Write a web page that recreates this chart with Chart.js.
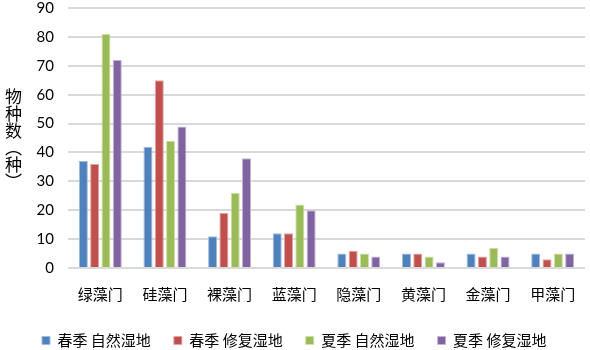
<!DOCTYPE html>
<html>
<head>
<meta charset="utf-8">
<script src="https://cdn.jsdelivr.net/npm/chart.js@4/dist/chart.umd.min.js"></script>
<style>
  html, body { margin: 0; padding: 0; background: #fff; }
  #wrap { position: relative; width: 590px; height: 350px; }
  #ytitle {
    position: absolute; left: 4px; top: 88px;
    writing-mode: vertical-rl; text-orientation: upright;
    font: 17px "Noto Sans CJK SC", sans-serif; color: #000; line-height: 18px;
  }
</style>
</head>
<body>
<div id="wrap">
  <canvas id="chart" width="590" height="350"></canvas>
  <div id="ytitle">物种数（种）</div>
</div>
<script>
const categories = ['绿藻门', '硅藻门', '裸藻门', '蓝藻门', '隐藻门', '黄藻门', '金藻门', '甲藻门'];
const springNatural = [37, 42, 11, 12, 5, 5, 5, 5];
const springRestored = [36, 65, 19, 12, 6, 5, 4, 3];
const summerNatural = [81, 44, 26, 22, 5, 4, 7, 5];
const summerRestored = [72, 49, 38, 20, 4, 2, 4, 5];
const yTicks = [0, 10, 20, 30, 40, 50, 60, 70, 80, 90];

const series = [
  { label: '春季 自然湿地', data: springNatural, color: '#4F81BD', edge: '#9fbbe0' },
  { label: '春季 修复湿地', data: springRestored, color: '#C0504D', edge: '#e3a3a1' },
  { label: '夏季 自然湿地', data: summerNatural, color: '#9BBB59', edge: '#cde0a8' },
  { label: '夏季 修复湿地', data: summerRestored, color: '#8064A2', edge: '#c3b3d8' },
];

// nudge the legend so it sits where the original puts it (left of centre, near the bottom)
const legendNudge = {
  id: 'legendNudge',
  afterLayout(chart) {
    const lg = chart.legend;
    if (!lg || !lg.lineWidths) return;
    const pad = lg.options.labels.padding;
    const startX = (lg.left + pad + lg.right - lg.lineWidths[0]) / 2;
    const dx = 42 - startX;
    const dy = 334 - (lg.top + lg.bottom) / 2;
    lg.left += dx; lg.right += dx;
    lg.top += dy; lg.bottom += dy;
  },
};

const ctx = document.getElementById('chart');
new Chart(ctx, {
  type: 'bar',
  data: {
    labels: categories,
    datasets: series.map(({ label, data, color, edge }) => ({
      label,
      data,
      backgroundColor: color,
      borderColor: edge,
      borderWidth: 1,
      categoryPercentage: 0.7,
      barPercentage: 0.8,
    })),
  },
  plugins: [legendNudge],
  options: {
    responsive: false,
    animation: false,
    layout: { padding: { top: 8, right: 5, left: 0, bottom: 0 } },
    plugins: {
      tooltip: { enabled: false },
      legend: {
        position: 'bottom',
        labels: {
          boxWidth: 8,
          boxHeight: 8,
          padding: 23,
          color: '#000',
          font: { family: '"Noto Sans CJK SC", sans-serif', size: 15 },
        },
      },
    },
    scales: {
      x: {
        grid: { display: false },
        border: { display: false },
        ticks: {
          color: '#000',
          padding: 9,
          maxRotation: 0,
          font: { family: '"Noto Sans CJK SC", sans-serif', size: 15 },
        },
        afterFit: (s) => { s.height = 82 - s.chart.legend.height; s.paddingLeft = 0; s.paddingRight = 0; },
      },
      y: {
        min: 0,
        max: 90,
        afterBuildTicks: (s) => { s.ticks = yTicks.map((v) => ({ value: v })); },
        grid: { color: '#d9d9d9', lineWidth: 2, drawTicks: false },
        border: { display: false },
        ticks: {
          color: '#000',
          padding: 14,
          font: { family: 'Lato, sans-serif', size: 15 },
        },
        afterFit: (s) => { s.width = 68; s.paddingTop = 0; s.paddingBottom = 0; },
      },
    },
  },
});
</script>
</body>
</html>
